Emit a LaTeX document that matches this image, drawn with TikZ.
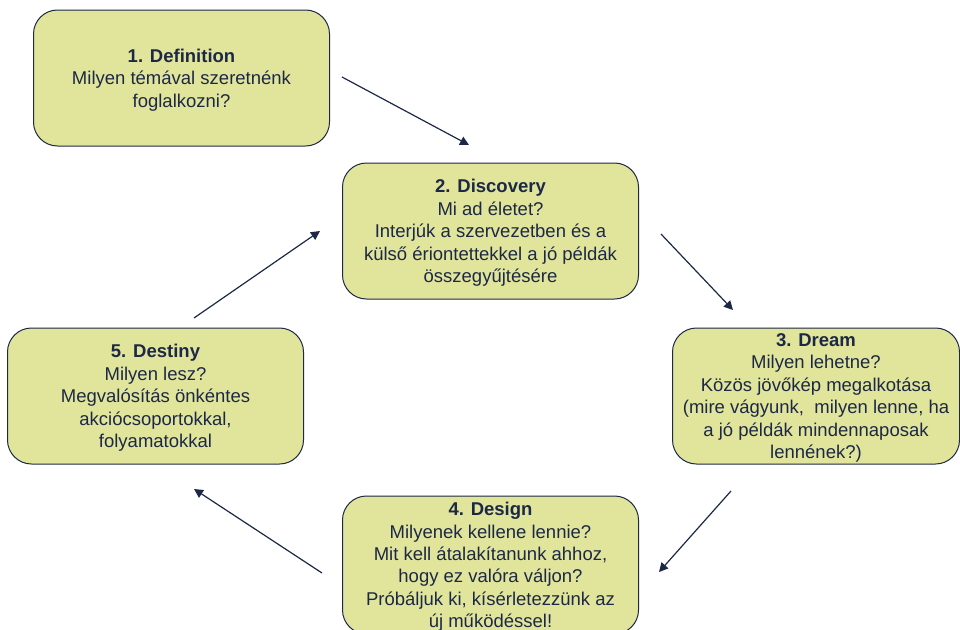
\documentclass[tikz,border=0pt]{standalone}
\usepackage{fontspec}
\setmainfont{Liberation Sans}
\usetikzlibrary{arrows.meta}
\definecolor{boxfill}{HTML}{E1E59B}
\definecolor{navy}{HTML}{1C2846}
\begin{document}
\begin{tikzpicture}[x=1pt,y=-1pt,
  stagebox/.style={draw=navy, line width=1pt, fill=boxfill, rounded corners=24pt,
    minimum width=296pt, minimum height=136pt, text=navy, align=center, inner sep=0pt,
    font=\fontsize{18.5pt}{22.4pt}\selectfont},
  stagetext/.style={text=navy, align=center, inner sep=0pt,
    font=\fontsize{18.5pt}{22.4pt}\selectfont},
  flow/.style={draw=navy, line width=1.2pt, -{Triangle[length=9pt,width=9pt]}}]
\useasboundingbox (0,0) rectangle (960,629);
\begin{scope}
\clip (0,0) rectangle (960,629);
\node[stagebox] (def) at (181.5,78) {};
\node[stagetext] (deft) at (181.5,80) {\textbf{1. Definition}\\Milyen témával szeretnénk\\foglalkozni?};
\node[stagebox] (disc) at (490.5,231) {};
\node[stagetext] (disct) at (490.5,233) {\textbf{2. Discovery}\\Mi ad életet?\\Interjúk a szervezetben és a\\külső ériontettekkel a jó példák\\összegyűjtésére};
\node[stagebox, minimum width=287pt] (dream) at (816,396) {};
\node[stagetext] (dreamt) at (816,398) {\textbf{3. Dream}\\Milyen lehetne?\\Közös jövőkép megalkotása\\(mire vágyunk,\ \ milyen lenne, ha\\a jó példák mindennaposak\\lennének?)};
\node[stagebox, minimum height=138pt] (design) at (490.5,565) {};
\node[stagetext] (designt) at (490.5,567) {\textbf{4. Design}\\Milyenek kellene lennie?\\Mit kell átalakítanunk ahhoz,\\hogy ez valóra váljon?\\Próbáljuk ki, kísérletezzünk az\\új működéssel!};
\node[stagebox] (dest) at (155.5,396) {};
\node[stagetext] (destt) at (155.5,398) {\textbf{5. Destiny}\\Milyen lesz?\\Megvalósítás önkéntes\\akciócsoportokkal,\\folyamatokkal};
\end{scope}
\coordinate (a1s) at (342,77);
\coordinate (a1e) at (469,145);
\coordinate (a2s) at (661,234);
\coordinate (a2e) at (733,310);
\coordinate (a3s) at (731,491);
\coordinate (a3e) at (659,572);
\coordinate (a4s) at (322,573);
\coordinate (a4e) at (194,489);
\coordinate (a5s) at (194,318);
\coordinate (a5e) at (320,231);
\draw[flow] (a1s) -- (a1e);
\draw[flow] (a2s) -- (a2e);
\draw[flow] (a3s) -- (a3e);
\draw[flow] (a4s) -- (a4e);
\draw[flow] (a5s) -- (a5e);
\end{tikzpicture}
\end{document}
